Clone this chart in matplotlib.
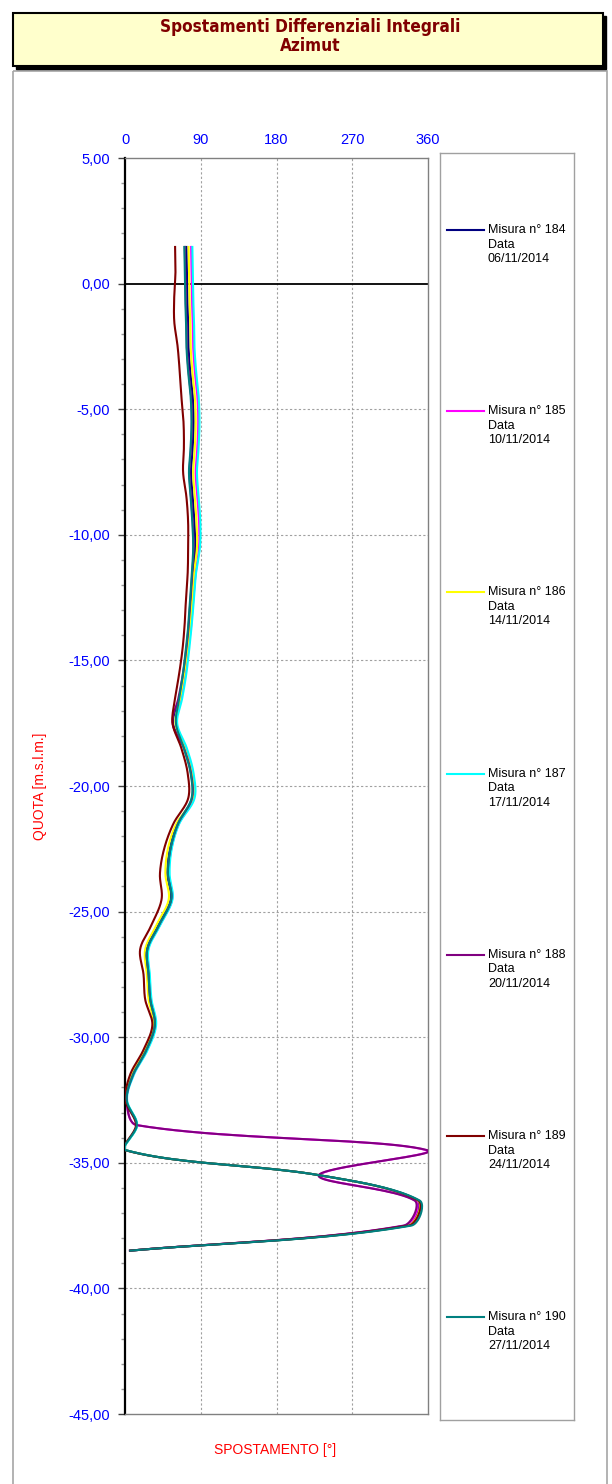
import numpy as np
import matplotlib
matplotlib.use('Agg')
import matplotlib.pyplot as plt
from matplotlib.patches import Rectangle
from matplotlib.ticker import FuncFormatter, MultipleLocator, FixedLocator

# ---------------- data ----------------
depth = [1.5, 0.5, -0.5, -1.5, -2.5, -3.5, -4.5, -5.5, -6.5, -7.5, -8.5, -9.5, -10.5,
         -11.5, -12.5, -13.5, -14.5, -15.5, -16.5, -17.5, -18.5, -19.5, -20.5,
         -21.5, -22.5, -23.5, -24.5, -25.5, -26.5, -27.5, -28.5, -29.5, -30.5,
         -31.5, -32.5, -33.5, -34.5, -35.5, -36.5, -37.5, -38.5]

az_184 = [73, 73.5, 74, 75, 75.5, 77.5, 80.5, 81.5, 80.5, 78.5, 80.5, 82.5, 83.5,
          81, 79, 77, 74, 70.5, 65, 57, 71.5, 79.5, 80.5,
          62.5, 53.5, 50.5, 54.5, 40.5, 26, 27.5, 29.5, 35, 25,
          9, 1.5, 14, 1, 232, 347, 334, 5]
az_185 = [78.5, 79, 79.5, 80.5, 81, 83, 86, 87, 86, 84, 86, 88, 88,
          84, 81.5, 79, 75.5, 72, 67, 61, 72.5, 80.5, 81.5,
          64, 55, 52, 56, 42, 27, 28.5, 30.5, 36, 26,
          10, 2, 14, 358.5, 231, 345, 333, 5]
az_186 = [75.5, 76, 76.5, 77.5, 78, 80, 83, 84, 83, 81, 83, 85, 85.5,
          82, 80, 77.5, 74.5, 70.5, 65.5, 60, 71, 79.5, 80.5,
          61, 51, 48, 52, 38, 24, 26, 28, 34, 24,
          8.5, 1.5, 14, 1, 232, 348, 336, 5]
az_187 = [80, 80.5, 81, 82, 82.5, 84.5, 87.5, 88.5, 87.5, 85.5, 87.5, 89.5, 89,
          84.5, 82, 79.5, 76.5, 73, 68, 62, 73.5, 81.5, 82.5,
          64.5, 55.5, 53, 56.5, 42.5, 28, 29.5, 31.5, 37, 27,
          10.5, 2.5, 14.5, 1.5, 232, 349, 338, 5.5]
az_188 = [71, 71.5, 72, 73, 73.5, 75.5, 78.5, 79.5, 78.5, 76.5, 78.5, 80.5, 81.5,
          80, 78, 76, 73, 69, 63.5, 56.5, 70, 78.5, 79.5,
          63, 54, 51, 55, 41, 26.5, 28, 30, 35.5, 25.5,
          9.5, 2, 14, 359.5, 230, 344, 331, 4.5]
az_189 = [59.5, 60, 58.5, 58.5, 62.5, 65, 67, 69.5, 70, 69, 73, 75, 75,
          74.5, 72.5, 71, 68.5, 64.5, 59.5, 56.5, 67, 74.5, 75,
          57.5, 46.5, 41.5, 43.5, 32, 18, 22, 24, 32.5, 22,
          6, 0.5, 13, 0.5, 232, 348.5, 337, 5]
az_190 = [70.5, 71, 71.5, 72.5, 73, 75, 78, 79, 78, 76, 78, 80, 81,
          79.5, 77.5, 75.5, 72.5, 69, 64.5, 60.5, 70, 78, 79,
          63, 54, 51, 55, 41, 26.5, 28, 30, 35.5, 25.5,
          9.5, 2, 14, 1, 232, 350, 340, 5]

series = [az_184, az_185, az_186, az_187, az_188, az_189, az_190]
misura = ['184', '185', '186', '187', '188', '189', '190']
dates = ['06/11/2014', '10/11/2014', '14/11/2014', '17/11/2014',
         '20/11/2014', '24/11/2014', '27/11/2014']
colors = ['#000080', '#FF00FF', '#FFFF00', '#00FFFF', '#800080', '#800000', '#008080']

x_ticks = [0, 90, 180, 270, 360]
y_major = [5, 0, -5, -10, -15, -20, -25, -30, -35, -40, -45]

# ---------------- layout ----------------
W, H = 612, 1484
fig = plt.figure(figsize=(W / 100, H / 100), dpi=100)
fig.patch.set_facecolor('white')


def fbox(x0, y0, x1, y1):
    return [x0 / W, 1 - y1 / H, (x1 - x0) / W, (y1 - y0) / H]


bg = fig.add_axes([0, 0, 1, 1], zorder=0)
bg.set_xlim(0, W)
bg.set_ylim(H, 0)
bg.axis('off')
bg.add_patch(Rectangle((13, 71), 594, 1430, fill=False, ec='#A6A6A6', lw=1.2))
bg.add_patch(Rectangle((16, 16), 590, 53, fc='black', ec='black', lw=1))
bg.add_patch(Rectangle((13, 13), 590, 53, fc='#FFFFCC', ec='black', lw=1.5))
tkw = dict(ha='center', va='center', color='#800000', fontsize=12.3,
           fontweight='bold', family='DejaVu Sans', fontstretch='condensed')
bg.text(310, 27, 'Spostamenti Differenziali Integrali', **tkw)
bg.text(310, 46, 'Azimut', **tkw)

bg.text(40, 786, 'QUOTA [m.s.l.m.]', rotation=90, ha='center', va='center',
        color='#FF0000', fontsize=10, family='Liberation Sans')
bg.text(275, 1450, 'SPOSTAMENTO [°]', ha='center', va='center',
        color='#FF0000', fontsize=10, family='Liberation Sans')

# ---------------- main axes ----------------
ax = fig.add_axes(fbox(125, 158, 428, 1414), zorder=1)
ax.set_xlim(0, 360)
ax.set_ylim(-45, 5)

SX = 303.0 / 360.0   # px per degree
SY = 1256.0 / 50.0   # px per metre


def smooth(xv, yv, n=24, tension=1.0 / 3.0):
    P = np.column_stack([np.asarray(xv, float) * SX, np.asarray(yv, float) * SY])
    m = len(P)
    out = [P[0]]
    for i in range(m - 1):
        p0 = P[i - 1] if i > 0 else P[i]
        p1 = P[i]
        p2 = P[i + 1]
        p3 = P[i + 2] if i + 2 < m else P[i + 1]
        d01 = np.hypot(*(p1 - p0))
        d12 = np.hypot(*(p2 - p1))
        d23 = np.hypot(*(p3 - p2))
        c1 = p1 + (p2 - p0) * tension * d12 / max(d01 + d12, 1e-9)
        c2 = p2 - (p3 - p1) * tension * d12 / max(d12 + d23, 1e-9)
        t = np.linspace(0, 1, n)[1:, None]
        seg = ((1 - t) ** 3) * p1 + 3 * ((1 - t) ** 2) * t * c1 + 3 * (1 - t) * t ** 2 * c2 + t ** 3 * p2
        out.extend(seg)
    out = np.array(out)
    return out[:, 0] / SX, out[:, 1] / SY


grid_kw = dict(color='#A0A0A0', lw=0.8, ls=(0, (2, 2)), zorder=1)
for gy in y_major[2:-1]:
    ax.axhline(gy, **grid_kw)
for gx in x_ticks[1:-1]:
    ax.axvline(gx, **grid_kw)
ax.axhline(0, color='black', lw=1.3, zorder=2)

for vals, col in zip(series, colors):
    sx_, sy_ = smooth(vals, depth)
    ax.plot(sx_, sy_, color=col, lw=1.5, zorder=3, solid_capstyle='butt')

ax.xaxis.set_major_locator(FixedLocator(x_ticks))
ax.xaxis.tick_top()
ax.tick_params(axis='x', top=True, bottom=False, length=0, pad=8,
               labelcolor='#0000FF', labelsize=10.5)
ax.yaxis.set_major_locator(FixedLocator(y_major))
ax.yaxis.set_minor_locator(MultipleLocator(1))
ax.yaxis.set_major_formatter(FuncFormatter(lambda v, p: f"{v:.2f}".replace('.', ',')))
ax.tick_params(axis='y', which='major', length=5, width=1, color='#404040',
               pad=6, labelcolor='#0000FF', labelsize=10.5)
ax.tick_params(axis='y', which='minor', length=3, width=1, color='#9A9A9A')
for lab in ax.get_xticklabels() + ax.get_yticklabels():
    lab.set_family('Liberation Sans')

for s in ['top', 'right', 'bottom']:
    ax.spines[s].set_color('#808080')
    ax.spines[s].set_linewidth(1.0)
ax.spines['left'].set_color('black')
ax.spines['left'].set_linewidth(1.6)

# ---------------- legend ----------------
lg = fig.add_axes(fbox(440, 153, 574, 1420), zorder=1)
lg.set_xlim(0, 134)
lg.set_ylim(1267, 0)
lg.set_xticks([])
lg.set_yticks([])
for s in lg.spines.values():
    s.set_color('#A0A0A0')
    s.set_linewidth(1.0)
for k, (num, dt, col) in enumerate(zip(misura, dates, colors)):
    y0 = 77 + k * 181.2
    lg.plot([7, 44], [y0, y0], color=col, lw=1.5)
    tk = dict(ha='left', va='center', fontsize=9, color='black', family='Liberation Sans')
    lg.text(48, y0, f'Misura n° {num}', **tk)
    lg.text(48, y0 + 14.5, 'Data', **tk)
    lg.text(48, y0 + 29, dt, **tk)

fig.savefig('out.png', dpi=100, facecolor='white')
